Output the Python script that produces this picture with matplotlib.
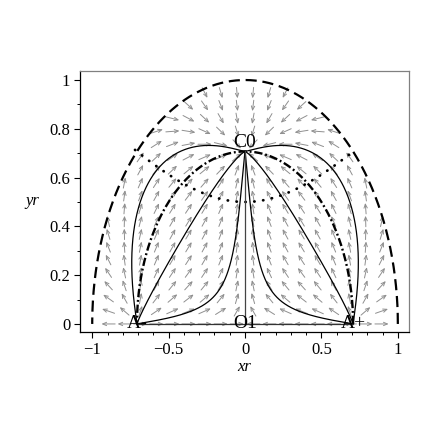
import numpy as np
import matplotlib
matplotlib.use('Agg')
import matplotlib.pyplot as plt

# ---------------- data ----------------
x_ticks = [-1, -0.5, 0, 0.5, 1]
x_tick_labels = ['\u22121', '\u22120.5', '0', '0.5', '1']
y_ticks = [0, 0.2, 0.4, 0.6, 0.8, 1]
y_tick_labels = ['0', '0.2', '0.4', '0.6', '0.8', '1']

eq_names = ['A-', 'O1', 'A+', 'C0']
eq_x = [-0.7071, 0.0, 0.7071, 0.0]
eq_y = [0.0, 0.0, 0.0, 0.7071]

# points read on the left-hand trajectories (mirrored to the right)
seed_x = [-0.49, -0.338, -0.20]
seed_y = [0.683, 0.425, 0.115]

k_coupling = 3.6          # coupling of the planar system
alpha = 1.0
beta = 1.1
grid_n = 20               # arrows per axis
r_inner = 0.7071          # invariant circle through A-, C0, A+
r_outer = 1.0             # boundary circle
hyp_a = 0.25              # dotted curve: y^2 = hyp_a + hyp_b x^2
hyp_b = 0.5

plt.rcParams['font.family'] = ['Liberation Serif', 'DejaVu Serif']


def field(x, y):
    r2 = x * x + y * y
    u = x * (alpha * (2 * r2 - 1) - k_coupling * y * y)
    v = y * (beta * (1 - 2 * r2) + k_coupling * x * x)
    return u, v


def integrate(x0, y0, dt, nmax, target):
    pts = [(x0, y0)]
    x, y = x0, y0
    for _ in range(nmax):
        k1 = field(x, y)
        k2 = field(x + 0.5 * dt * k1[0], y + 0.5 * dt * k1[1])
        k3 = field(x + 0.5 * dt * k2[0], y + 0.5 * dt * k2[1])
        k4 = field(x + dt * k3[0], y + dt * k3[1])
        x += dt / 6 * (k1[0] + 2 * k2[0] + 2 * k3[0] + k4[0])
        y += dt / 6 * (k1[1] + 2 * k2[1] + 2 * k3[1] + k4[1])
        pts.append((x, y))
        if np.hypot(x - target[0], y - target[1]) < 1e-4 or abs(x) > 1.3 or abs(y) > 1.3:
            break
    pts.append(target)
    return np.array(pts)


fig = plt.figure(figsize=(4.42, 4.42), dpi=100)
ax = fig.add_axes([80 / 442, 1 - 332 / 442, 329 / 442, 261 / 442])
ax.set_xlim(-1.08, 1.073)
ax.set_ylim(-0.033, 1.037)

# ---------------- direction field ----------------
gx = np.linspace(-1, 1, grid_n)
gy = np.linspace(0, 1, grid_n)
dx = gx[1] - gx[0]
dy = gy[1] - gy[0]
for yy in gy:
    for xx in gx:
        if xx * xx + yy * yy >= 0.999:
            continue
        u, v = field(xx, yy)
        n = np.hypot(u / dx, v / dy)
        if n < 1e-12:
            continue
        ax_ = 0.85 * u / n
        ay_ = 0.85 * v / n
        ax.annotate('', xy=(xx + ax_ / 2, yy + ay_ / 2), xytext=(xx - ax_ / 2, yy - ay_ / 2),
                    arrowprops=dict(arrowstyle='->,head_length=0.28,head_width=0.12',
                                    color='#8f8f8f', lw=0.7, shrinkA=0, shrinkB=0),
                    zorder=1)

# ---------------- boundary circle ----------------
th = np.linspace(0, np.pi, 400)
ax.plot(r_outer * np.cos(th), r_outer * np.sin(th), color='black', lw=1.6,
        linestyle=(0, (5, 2.6)), zorder=3)

# ---------------- invariant circle (bold dash-dot) ----------------
ax.plot(r_inner * np.cos(th), r_inner * np.sin(th), color='black', lw=1.7,
        linestyle=(0, (3.5, 1.2, 0.8, 1.2)), zorder=4)

# ---------------- dotted curve ----------------
hx = np.linspace(-0.72, 0.72, 300)
ax.plot(hx, np.sqrt(hyp_a + hyp_b * hx ** 2), color='black', lw=2.0,
        linestyle=(0, (0.1, 3.1)), dash_capstyle='round', zorder=4)

# ---------------- trajectories ----------------
A_minus = (eq_x[0], eq_y[0])
A_plus = (eq_x[2], eq_y[2])
C0 = (eq_x[3], eq_y[3])
for sx, sy in zip(seed_x, seed_y):
    fwd = integrate(sx, sy, 0.005, 6000, C0)
    bwd = integrate(sx, sy, -0.005, 6000, A_minus)
    curve = np.vstack([bwd[::-1], fwd[1:]])
    ax.plot(curve[:, 0], curve[:, 1], color='black', lw=0.9, zorder=5)
    ax.plot(-curve[:, 0], curve[:, 1], color='black', lw=0.9, zorder=5)

# axes-invariant trajectories
ax.plot([A_minus[0], A_plus[0]], [0, 0], color='#333333', lw=0.9, zorder=5)
ax.plot([eq_x[1], C0[0]], [eq_y[1], C0[1]], color='#444444', lw=0.9, zorder=5)

# ---------------- labels of equilibria ----------------
for name, px, py in zip(eq_names, eq_x, eq_y):
    if name == 'C0':
        ax.text(px, py, name, ha='center', va='bottom', fontsize=14, zorder=6)
    else:
        ax.text(px, py, name, ha='center', va='center', fontsize=14, zorder=6)

# ---------------- axes styling ----------------
ax.set_xticks(x_ticks)
ax.set_xticklabels(x_tick_labels)
ax.set_yticks(y_ticks)
ax.set_yticklabels(y_tick_labels)
ax.set_xticks(np.arange(-1, 1.001, 0.1), minor=True)
ax.set_yticks(np.arange(0, 1.001, 0.1), minor=True)
ax.tick_params(which='major', direction='out', length=4, width=0.8, labelsize=12, pad=3)
ax.tick_params(which='minor', direction='out', length=2.2, width=0.7)
ax.tick_params(top=False, right=False, which='both')
for s in ['left', 'bottom']:
    ax.spines[s].set_color('black')
    ax.spines[s].set_linewidth(0.9)
for s in ['top', 'right']:
    ax.spines[s].set_color('#808080')
    ax.spines[s].set_linewidth(0.9)

ax.set_xlabel('xr', fontsize=12, style='italic', labelpad=1)
ax.set_ylabel('yr', fontsize=12, style='italic', rotation=0, labelpad=12)
ax.yaxis.set_label_coords(-0.145, 0.47)

fig.savefig('out.png', dpi=100)
